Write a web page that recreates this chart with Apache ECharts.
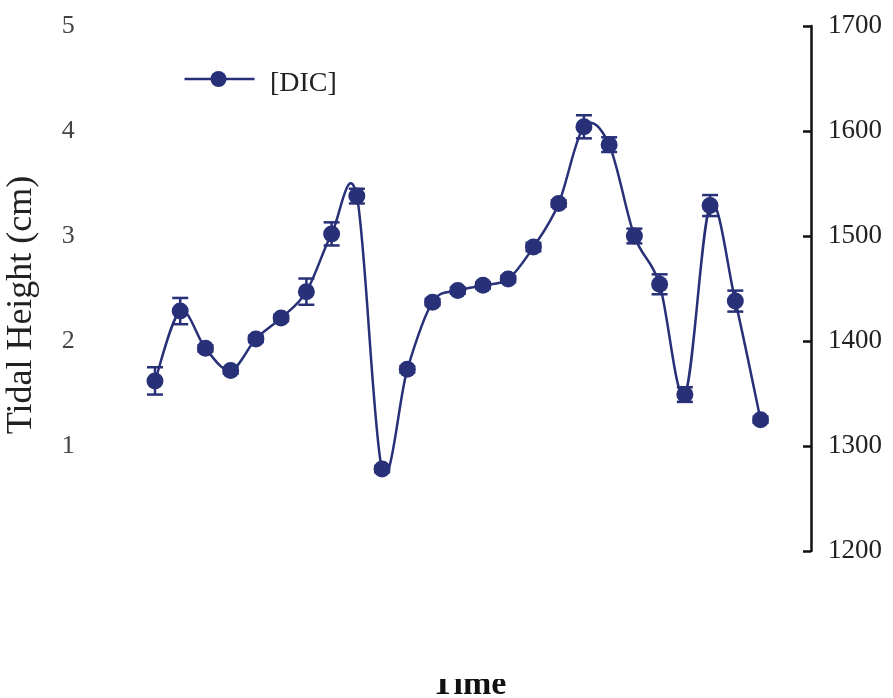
<!DOCTYPE html>
<html>
<head>
<meta charset="utf-8">
<script src="https://cdn.jsdelivr.net/npm/echarts@6/dist/echarts.min.js"></script>
<style>html,body{margin:0;padding:0;background:#fff;}#c{width:893px;height:698px;}</style>
</head>
<body>
<div id="c"></div>
<script>
var timeIndex = [1,2,3,4,5,6,7,8,9,10,11,12,13,14,15,16,17,18,19,20,21,22,23,24,25];
var dicValues = [1362,1428.5,1393,1372,1402,1422,1447,1502,1538,1278,1373,1437,1448,1453,1459,1489.5,1531,1604,1587,1500,1454,1349,1529,1438,1325];
var dicErrors = [13,12.5,3,3,3,3,12.5,11,7,3,3,3,3,3,3,4,3,11,7,7,9.5,7,10,10,3];
var leftTicks = [0,1,2,3,4,5];
var rightTicks = [1200,1300,1400,1500,1600,1700];

var color = '#283078';
var chart = echarts.init(document.getElementById('c'));
var lineData = timeIndex.map(function(t,i){return [t, dicValues[i]];});
var errData = timeIndex.map(function(t,i){return [t, dicValues[i]-dicErrors[i], dicValues[i]+dicErrors[i]];});
var n = timeIndex.length;

chart.setOption({
  animation: false,
  backgroundColor: '#fff',
  grid: {left: 129.75, right: 82, top: 26, bottom: 147},
  legend: {
    left: 177, top: 63, padding: 5,
    itemWidth: 70, itemHeight: 32,
    data: [{name: '[DIC]', icon: 'none'}],
    textStyle: {fontFamily: 'Liberation Serif', fontSize: 28, color: '#222', padding: [0,0,0,13]},
    selectedMode: false
  },
  xAxis: {type: 'value', min: 0, max: 27, show: false},
  yAxis: [
    {type: 'value', min: leftTicks[0], max: leftTicks[leftTicks.length-1], interval: 1, position: 'left',
     axisLine: {show: false}, axisTick: {show: false}, splitLine: {show: false},
     axisLabel: {margin: 55, fontFamily: 'Liberation Serif', fontSize: 26, color: '#444',
       formatter: function(v){return v === 0 ? '' : String(v);}}
    },
    {type: 'value', min: rightTicks[0], max: rightTicks[rightTicks.length-1], interval: 100, position: 'right',
     axisLine: {show: true, lineStyle: {color: '#111', width: 2.5}},
     axisTick: {show: true, inside: true, length: 8, lineStyle: {color: '#111', width: 2.5}},
     splitLine: {show: false},
     axisLabel: {margin: 17, fontFamily: 'Liberation Serif', fontSize: 27, color: '#222',
       formatter: function(v){return String(v);}}
    }
  ],
  series: [
    {
      name: 'curve', type: 'custom', yAxisIndex: 1, z: 2, silent: true,
      data: timeIndex.map(function(t){return [t];}),
      encode: {x: 0},
      clip: false,
      renderItem: function(params, api){
        var i = params.dataIndex;
        if (i >= n - 1) return null;
        function P(j){ j = Math.max(0, Math.min(n-1, j)); return api.coord([timeIndex[j], dicValues[j]]); }
        var p0 = P(i-1), p1 = P(i), p2 = P(i+1), p3 = P(i+2);
        var t1 = [(p2[0]-p0[0])/2, (p2[1]-p0[1])/2];
        var t2 = [(p3[0]-p1[0])/2, (p3[1]-p1[1])/2];
        return {type: 'bezierCurve', shape: {
          x1: p1[0], y1: p1[1], x2: p2[0], y2: p2[1],
          cpx1: p1[0] + t1[0]/3, cpy1: p1[1] + t1[1]/3,
          cpx2: p2[0] - t2[0]/3, cpy2: p2[1] - t2[1]/3
        }, style: {stroke: color, lineWidth: 2.5, fill: null}};
      }
    },
    {
      name: 'err', type: 'custom', yAxisIndex: 1, z: 3, silent: true,
      data: errData,
      encode: {x: 0, y: [1,2]},
      renderItem: function(params, api){
        var x = api.value(0);
        var lo = api.coord([x, api.value(1)]);
        var hi = api.coord([x, api.value(2)]);
        var hw = 8;
        var st = {stroke: color, lineWidth: 2.5};
        return {type: 'group', children: [
          {type: 'line', shape: {x1: lo[0], y1: lo[1], x2: hi[0], y2: hi[1]}, style: st},
          {type: 'line', shape: {x1: lo[0]-hw, y1: lo[1], x2: lo[0]+hw, y2: lo[1]}, style: st},
          {type: 'line', shape: {x1: hi[0]-hw, y1: hi[1], x2: hi[0]+hw, y2: hi[1]}, style: st}
        ]};
      }
    },
    {
      name: '[DIC]', type: 'line', yAxisIndex: 1, z: 4,
      data: lineData,
      symbol: 'circle', symbolSize: 17, showAllSymbol: true,
      lineStyle: {color: color, width: 0, opacity: 0},
      itemStyle: {color: color}
    }
  ],
  graphic: [
    {type: 'group', left: 182, top: 71, silent: true, children: [
      {type: 'line', shape: {x1: 0, y1: 8, x2: 70, y2: 8}, style: {stroke: color, lineWidth: 2.5}},
      {type: 'circle', shape: {cx: 34, cy: 8, r: 8}, style: {fill: color}}
    ]},
    {type: 'text', rotation: Math.PI/2, x: 4, y: 305, style: {text: 'Tidal Height (cm)', fontFamily: 'Liberation Serif', fontSize: 36, fill: '#222', align: 'center', verticalAlign: 'top'}},
    {type: 'text', x: 469, y: 702, z: 10, style: {text: 'Time', fontFamily: 'Liberation Serif', fontWeight: 'bold', fontSize: 34, fill: '#111', align: 'center', verticalAlign: 'bottom'}},
    {type: 'rect', z: 11, shape: {x: 400, y: 640, width: 140, height: 39}, style: {fill: '#fff'}}
  ]
});
</script>
</body>
</html>
